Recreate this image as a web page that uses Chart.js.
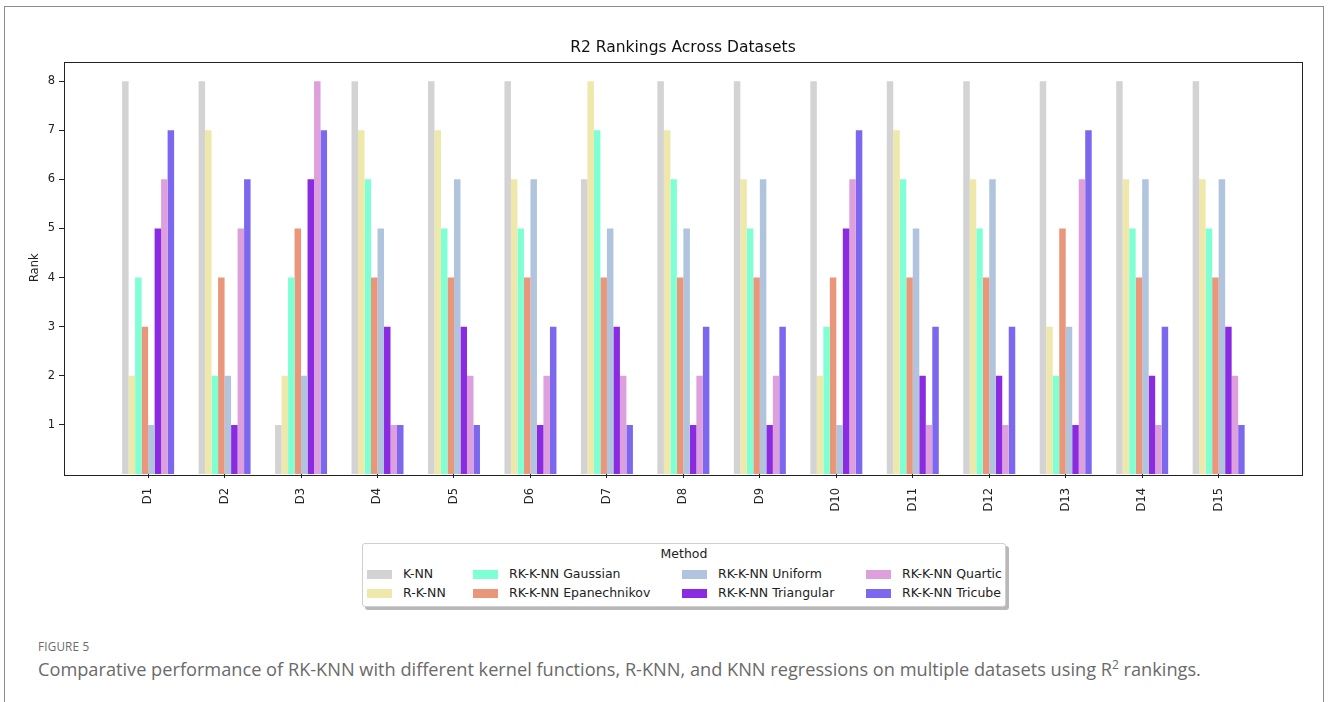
<!DOCTYPE html>
<html>
<head>
<meta charset="utf-8">
<title>R2 Rankings Across Datasets</title>
<script src="https://cdn.jsdelivr.net/npm/chart.js@4/dist/chart.umd.min.js"></script>
<style>
  html, body { margin: 0; padding: 0; background: #fff; }
  body { position: relative; width: 1328px; height: 702px; overflow: hidden; font-family: "DejaVu Sans", sans-serif; }
  #frame { position: absolute; left: 4px; top: 6px; width: 1320px; height: 760px; border: 1.5px solid #8c8c8c; border-bottom: none; box-sizing: border-box; }
  #plot { position: absolute; left: 0; top: 0; width: 1328px; height: 530px; }
  #legend { position: absolute; left: 362px; top: 543px; width: 644px; height: 64px; box-sizing: border-box;
            border: 1px solid #cfcfcf; border-radius: 3px; background: #fff; box-shadow: 3px 3px 0 rgba(0,0,0,0.28);
            font-family: "DejaVu Sans", sans-serif; font-size: 12.5px; color: #222; }
  #legend .ttl { position: absolute; left: 0; right: 0; top: 2px; text-align: center; line-height: 16px; }
  #legend .item { position: absolute; height: 16px; line-height: 16px; white-space: nowrap; }
  #legend .sw { position: absolute; left: 0; top: 3.5px; width: 25px; height: 9px; }
  #legend .lb { position: absolute; left: 36px; top: 0; }
  #fig { position: absolute; left: 38px; top: 638px; font-family: "Open Sans", sans-serif; font-size: 11.7px; color: #6b6b6b; letter-spacing: 0.2px; }
  #cap { position: absolute; left: 38px; top: 657px; font-family: "Open Sans", sans-serif; font-size: 18.2px; color: #6a6a6a; white-space: nowrap; }
  #cap sup { font-size: 0.66em; vertical-align: 0.6em; line-height: 0; }
</style>
</head>
<body>
<div id="frame"></div>
<div id="plot"><canvas id="chart" width="1328" height="530"></canvas></div>
<div id="legend"><div class="ttl">Method</div></div>
<div id="fig">FIGURE 5</div>
<div id="cap">Comparative performance of RK-KNN with different kernel functions, R-KNN, and KNN regressions on multiple datasets using R<sup>2</sup> rankings.</div>

<script>
// Datasets on the x axis
const categories = ['D1','D2','D3','D4','D5','D6','D7','D8','D9','D10','D11','D12','D13','D14','D15'];

// Rank of each method on every dataset (1 = best, 8 = worst)
const knn          = [8, 8, 1, 8, 8, 8, 6, 8, 8, 8, 8, 8, 8, 8, 8];
const rknn         = [2, 7, 2, 7, 7, 6, 8, 7, 6, 2, 7, 6, 3, 6, 6];
const gaussian     = [4, 2, 4, 6, 5, 5, 7, 6, 5, 3, 6, 5, 2, 5, 5];
const epanechnikov = [3, 4, 5, 4, 4, 4, 4, 4, 4, 4, 4, 4, 5, 4, 4];
const uniform      = [1, 2, 2, 5, 6, 6, 5, 5, 6, 1, 5, 6, 3, 6, 6];
const triangular   = [5, 1, 6, 3, 3, 1, 3, 1, 1, 5, 2, 2, 1, 2, 3];
const quartic      = [6, 5, 8, 1, 2, 2, 2, 2, 2, 6, 1, 1, 6, 1, 2];
const tricube      = [7, 6, 7, 1, 1, 3, 1, 3, 3, 7, 3, 3, 7, 3, 1];

// Legend names and bar colours, in plotting order
const methodNames  = ['K-NN', 'R-K-NN', 'RK-K-NN Gaussian', 'RK-K-NN Epanechnikov',
                      'RK-K-NN Uniform', 'RK-K-NN Triangular', 'RK-K-NN Quartic', 'RK-K-NN Tricube'];
const methodColors = ['#d3d3d3', '#eee8aa', '#7fffd4', '#e9967a',
                      '#b0c4de', '#8a2be2', '#dda0dd', '#7b68ee'];
const rankTicks    = [1, 2, 3, 4, 5, 6, 7, 8];
const chartTitle   = 'R2 Rankings Across Datasets';

const seriesValues = [knn, rknn, gaussian, epanechnikov, uniform, triangular, quartic, tricube];

Chart.defaults.font.family = '"DejaVu Sans", sans-serif';
Chart.defaults.color = '#222';

// Closed box around the plotting area, with the title centred above it
const plotFrame = {
  id: 'plotFrame',
  afterDraw(chart) {
    const { ctx, chartArea: a } = chart;
    ctx.save();
    ctx.strokeStyle = '#222';
    ctx.lineWidth = 1;
    ctx.strokeRect(Math.round(a.left) + 0.5, Math.round(a.top) + 0.5,
                   Math.round(a.right - a.left), Math.round(a.bottom - a.top));
    ctx.fillStyle = '#111';
    ctx.font = '15.5px "DejaVu Sans", sans-serif';
    ctx.textAlign = 'center';
    ctx.textBaseline = 'middle';
    ctx.fillText(chartTitle, (a.left + a.right) / 2, a.top - 13.5);
    ctx.restore();
  }
};

const chart = new Chart(document.getElementById('chart'), {
  type: 'bar',
  data: {
    datasets: seriesValues.map((vals, k) => ({
      label: methodNames[k],
      data: vals.map((v, i) => ({ x: i + 1, y: v })),
      backgroundColor: methodColors[k],
      borderWidth: 0,
      categoryPercentage: 0.68,
      barPercentage: 1.0
    }))
  },
  plugins: [plotFrame],
  options: {
    responsive: false,
    animation: false,
    events: [],
    layout: { padding: { left: 0, right: 26, top: 61.5, bottom: 0 } },
    plugins: {
      legend: { display: false },
      tooltip: { enabled: false },
      title: { display: false }
    },
    scales: {
      x: {
        type: 'linear',
        offset: false,
        min: -0.1,
        max: 16.09,
        grid: { display: true, drawOnChartArea: false, drawTicks: true, tickLength: 4, color: '#222', offset: false },
        border: { display: false },
        afterBuildTicks: (axis) => { axis.ticks = categories.map((c, i) => ({ value: i + 1 })); },
        afterFit: (axis) => { axis.height = 56; },
        ticks: {
          autoSkip: false,
          minRotation: 90,
          maxRotation: 90,
          padding: 10,
          color: '#222',
          font: { size: 11.5 },
          callback: (v) => categories[Math.round(v) - 1] || ''
        }
      },
      y: {
        min: 0,
        max: 8.4,
        grid: { display: true, drawOnChartArea: false, drawTicks: true, tickLength: 5, color: '#222' },
        border: { display: false },
        afterBuildTicks: (axis) => { axis.ticks = rankTicks.map(v => ({ value: v })); },
        afterFit: (axis) => { axis.width = 64; },
        ticks: { padding: 4, color: '#222', font: { size: 11.5 }, callback: (v) => String(v) },
        title: { display: true, text: 'Rank', color: '#222', font: { size: 11.5 }, padding: { top: 28, bottom: 0 } }
      }
    }
  }
});

// Legend laid out in four columns, filled column by column
const legendBox = document.getElementById('legend');
const colLeft = [4, 110, 319, 503];
const rowTop = [22, 41];
chart.data.datasets.forEach((ds, i) => {
  const item = document.createElement('div');
  item.className = 'item';
  item.style.left = colLeft[Math.floor(i / 2)] + 'px';
  item.style.top = rowTop[i % 2] + 'px';
  const sw = document.createElement('span');
  sw.className = 'sw';
  sw.style.background = ds.backgroundColor;
  const lb = document.createElement('span');
  lb.className = 'lb';
  lb.textContent = ds.label;
  item.appendChild(sw);
  item.appendChild(lb);
  legendBox.appendChild(item);
});
</script>
</body>
</html>
